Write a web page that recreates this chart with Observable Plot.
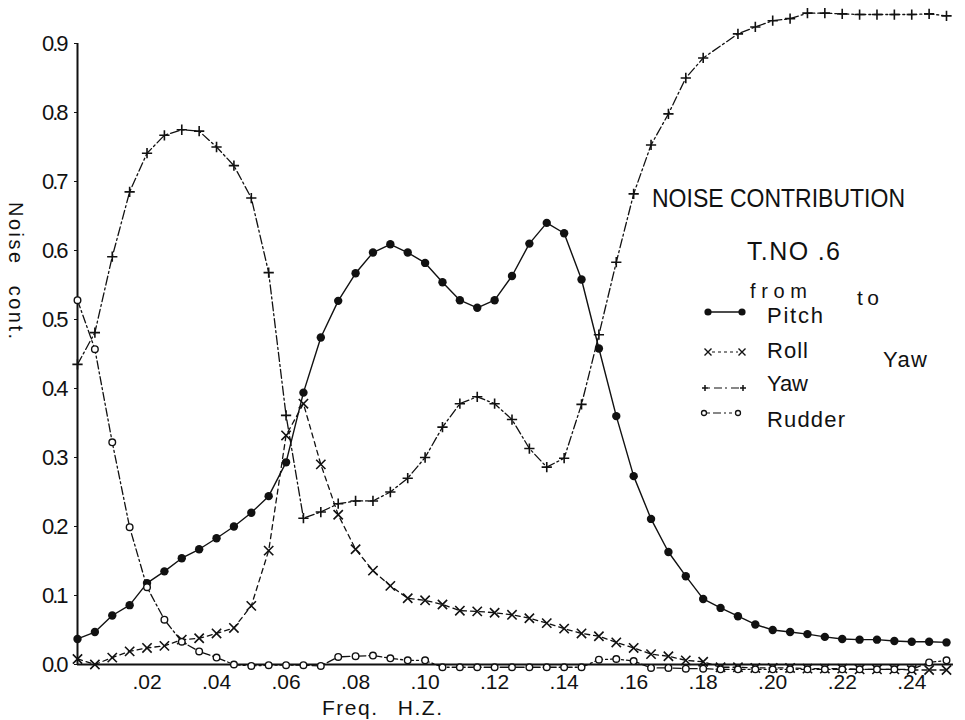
<!DOCTYPE html>
<html>
<head>
<meta charset="utf-8">
<script src="https://cdn.jsdelivr.net/npm/d3@7"></script>
<script src="https://cdn.jsdelivr.net/npm/@observablehq/plot@0.6"></script>
<style>
  html, body { margin: 0; padding: 0; background: #fff; }
  #wrap { position: relative; width: 965px; height: 720px; }
  #wrap svg { display: block; }
  #overlay { position: absolute; left: 0; top: 0; pointer-events: none; }
  #overlay text { font-family: "Liberation Sans", Arial, sans-serif; fill: #111; }
  [aria-label="y-axis tick label"] text { font-size: 22px; letter-spacing: -2px; }
  [aria-label="x-axis tick label"] text { font-size: 21px; }
</style>
</head>
<body>
<div id="wrap"></div>
<script>
// ---- data ----
const freq = [0.000,0.005,0.010,0.015,0.020,0.025,0.030,0.035,0.040,0.045,
              0.050,0.055,0.060,0.065,0.070,0.075,0.080,0.085,0.090,0.095,
              0.100,0.105,0.110,0.115,0.120,0.125,0.130,0.135,0.140,0.145,
              0.150,0.155,0.160,0.165,0.170,0.175,0.180,0.185,0.190,0.195,
              0.200,0.205,0.210,0.215,0.220,0.225,0.230,0.235,0.240,0.245,0.250];

const pitch = [0.037,0.047,0.071,0.086,0.118,0.135,0.154,0.167,0.183,0.200,
               0.220,0.244,0.293,0.394,0.474,0.527,0.567,0.597,0.609,0.597,
               0.582,0.554,0.528,0.517,0.528,0.563,0.610,0.640,0.625,0.558,
               0.458,0.360,0.273,0.211,0.163,0.128,0.095,0.082,0.070,0.058,
               0.050,0.047,0.044,0.040,0.037,0.036,0.036,0.034,0.033,0.033,0.032];

const roll = [0.008,0.000,0.010,0.019,0.024,0.027,0.036,0.038,0.045,0.053,
              0.085,0.165,0.332,0.378,0.290,0.217,0.167,0.136,0.114,0.096,
              0.093,0.087,0.078,0.077,0.075,0.072,0.067,0.060,0.052,0.045,
              0.041,0.032,0.024,0.015,0.012,0.006,0.004,-0.004,-0.004,-0.005,
              -0.005,-0.005,-0.006,-0.006,-0.006,-0.007,-0.007,-0.007,-0.008,-0.008,-0.008];

const yawFreq = [0.000,0.005,0.010,0.015,0.020,0.025,0.030,0.035,0.040,0.045,
                 0.050,0.055,0.060,0.065,0.070,0.075,0.080,0.085,0.090,0.095,
                 0.100,0.105,0.110,0.115,0.120,0.125,0.130,0.135,0.140,0.145,
                 0.150,0.155,0.160,0.165,0.170,0.175,0.180,0.190,0.195,
                 0.200,0.205,0.210,0.215,0.220,0.225,0.230,0.235,0.240,0.245,0.250];
const yaw = [0.435,0.481,0.591,0.685,0.741,0.767,0.775,0.773,0.750,0.723,
             0.676,0.568,0.361,0.212,0.221,0.233,0.237,0.237,0.250,0.270,
             0.300,0.344,0.378,0.388,0.378,0.355,0.313,0.286,0.299,0.377,
             0.478,0.583,0.682,0.753,0.798,0.850,0.879,0.914,0.924,
             0.933,0.936,0.944,0.944,0.943,0.942,0.942,0.942,0.942,0.943,0.940];

const rudder = [0.528,0.457,0.322,0.199,0.112,0.065,0.033,0.019,0.010,0.000,
                -0.002,-0.001,-0.001,-0.001,-0.002,0.011,0.012,0.013,0.009,0.006,
                0.006,-0.004,-0.004,-0.004,-0.004,-0.004,-0.004,-0.004,-0.004,-0.004,
                0.007,0.008,0.005,-0.005,-0.005,-0.006,-0.006,-0.007,-0.007,-0.007,
                -0.007,-0.007,-0.007,-0.007,-0.007,-0.007,-0.007,-0.007,-0.007,0.003,0.006];

const yTicks = [0,0.1,0.2,0.3,0.4,0.5,0.6,0.7,0.8,0.9];
const yTickLabels = ["0.0","0.1","0.2","0.3","0.4","0.5","0.6","0.7","0.8","0.9"];
const xTicks = [0.02,0.04,0.06,0.08,0.10,0.12,0.14,0.16,0.18,0.20,0.22,0.24];
const xTickLabels = [".02",".04",".06",".08",".10",".12",".14",".16",".18",".20",".22",".24"];

const toRows = (xs, ys) => xs.map((f, i) => ({f, v: ys[i]}));
const pitchRows = toRows(freq, pitch);
const rollRows = toRows(freq, roll);
const yawRows = toRows(yawFreq, yaw);
const rudderRows = toRows(freq, rudder);

const chart = Plot.plot({
  width: 965,
  height: 720,
  marginLeft: 77,
  marginRight: 19,
  marginTop: 43,
  marginBottom: 56,
  style: { fontFamily: "Liberation Sans, Arial, sans-serif", background: "#fff", color: "#111" },
  x: { domain: [0, 0.25] },
  y: { domain: [0, 0.9] },
  marks: [
    Plot.axisY({ ticks: yTicks, tickFormat: d => yTickLabels[yTicks.indexOf(d)], tickSize: 3, tickPadding: 8, label: null }),
    Plot.axisX({ ticks: xTicks, tickFormat: d => xTickLabels[xTicks.indexOf(d)], tickSize: 0, tickPadding: 10, label: null }),
    Plot.ruleX([0], { y1: 0, y2: 0.9, stroke: "#111", strokeWidth: 2 }),
    Plot.ruleY([0], { x1: 0, x2: 0.252, stroke: "#111", strokeWidth: 2 }),
    // Pitch
    Plot.line(pitchRows, { x: "f", y: "v", stroke: "#111", strokeWidth: 1.4 }),
    Plot.dot(pitchRows, { x: "f", y: "v", r: 4.2, fill: "#111", stroke: "none" }),
    // Roll
    Plot.line(rollRows, { x: "f", y: "v", stroke: "#111", strokeWidth: 1.3, strokeDasharray: "5,4" }),
    Plot.dot(rollRows, { x: "f", y: "v", symbol: "times", r: 4.3, stroke: "#111", strokeWidth: 1.6 }),
    // Yaw
    Plot.line(yawRows, { x: "f", y: "v", stroke: "#111", strokeWidth: 1.3, strokeDasharray: "9,3,2,3" }),
    Plot.dot(yawRows, { x: "f", y: "v", symbol: "plus", r: 3.4, stroke: "#111", strokeWidth: 1.6 }),
    // Rudder
    Plot.line(rudderRows, { x: "f", y: "v", stroke: "#111", strokeWidth: 1.3, strokeDasharray: "8,3,2,3" }),
    Plot.dot(rudderRows, { x: "f", y: "v", r: 3.3, fill: "#fff", stroke: "#111", strokeWidth: 1.4 })
  ]
});

const wrap = document.getElementById("wrap");
wrap.appendChild(chart);

// ---- annotation / legend overlay ----
const NS = "http://www.w3.org/2000/svg";
const ov = document.createElementNS(NS, "svg");
ov.setAttribute("id", "overlay");
ov.setAttribute("width", 965);
ov.setAttribute("height", 720);
wrap.appendChild(ov);

function txt(s, x, y, size, len, adjust, extra) {
  const t = document.createElementNS(NS, "text");
  t.textContent = s;
  t.setAttribute("x", x);
  t.setAttribute("y", y);
  t.setAttribute("font-size", size);
  if (len) { t.setAttribute("textLength", len); t.setAttribute("lengthAdjust", adjust || "spacingAndGlyphs"); }
  if (extra) for (const k in extra) t.setAttribute(k, extra[k]);
  ov.appendChild(t);
  return t;
}
function el(name, attrs) {
  const e = document.createElementNS(NS, name);
  for (const k in attrs) e.setAttribute(k, attrs[k]);
  ov.appendChild(e);
  return e;
}

// axis titles
txt("Noise cont.", 0, 0, 20, null, null, { transform: "translate(9,202) rotate(90)", "letter-spacing": "2.5", "word-spacing": "12" });
txt("Freq. H.Z.", 322, 715, 21, null, null, { "letter-spacing": "1.5", "word-spacing": "12" });

// titles
txt("NOISE CONTRIBUTION", 652, 207, 26, 253);
txt("T.NO .6", 747, 260, 25, 93, "spacing");
txt("from", 750, 298, 20, 57, "spacing");
txt("to", 857, 305, 21, 22, "spacing");
txt("Pitch", 767, 323, 22, 56, "spacing");
txt("Roll", 767, 358, 22, 41, "spacing");
txt("Yaw", 767, 391, 22, 41, "spacing");
txt("Rudder", 767, 427, 22, 78, "spacing");
txt("Yaw", 883, 367, 22, 44, "spacing");

// legend symbols
const S = "#111";
// Pitch
el("line", { x1: 708, y1: 312, x2: 742, y2: 312, stroke: S, "stroke-width": 1.5 });
el("circle", { cx: 708, cy: 312, r: 3.6, fill: S });
el("circle", { cx: 742, cy: 312, r: 3.6, fill: S });
// Roll
el("line", { x1: 712, y1: 352, x2: 738, y2: 352, stroke: S, "stroke-width": 1.2, "stroke-dasharray": "3,3" });
for (const cx of [708, 742]) {
  el("path", { d: `M${cx-3.5},${352-3.5}L${cx+3.5},${352+3.5}M${cx-3.5},${352+3.5}L${cx+3.5},${352-3.5}`, stroke: S, "stroke-width": 1.4 });
}
// Yaw
el("line", { x1: 708, y1: 388, x2: 740, y2: 388, stroke: S, "stroke-width": 1.2, "stroke-dasharray": "2,4,8,3" });
for (const cx of [705, 743]) {
  el("path", { d: `M${cx-3},388L${cx+3},388M${cx},385L${cx},391`, stroke: S, "stroke-width": 1.5 });
}
// Rudder
el("line", { x1: 707, y1: 413, x2: 735, y2: 413, stroke: S, "stroke-width": 1.2, "stroke-dasharray": "3,3,8,3,2,3" });
el("circle", { cx: 704, cy: 413, r: 2.5, fill: "#fff", stroke: S, "stroke-width": 1.3 });
el("circle", { cx: 738, cy: 413, r: 2.5, fill: "#fff", stroke: S, "stroke-width": 1.3 });
</script>
</body>
</html>
